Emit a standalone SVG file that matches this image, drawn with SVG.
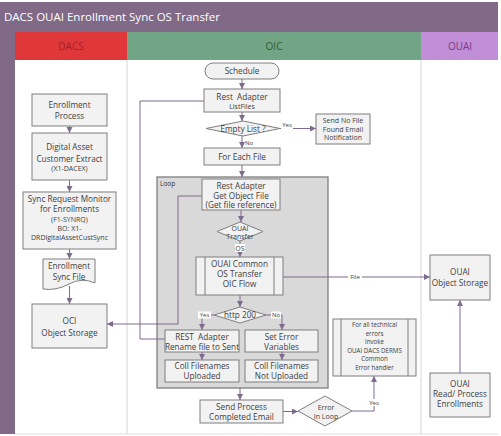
<svg xmlns="http://www.w3.org/2000/svg" width="501" height="436" viewBox="0 0 501 436">
<defs>
<marker id="arr" markerUnits="userSpaceOnUse" markerWidth="7" markerHeight="7" refX="6" refY="3" orient="auto">
<path d="M0,0 L6,3 L0,6 z" fill="#7E6A8E"/>
</marker>
<style>
.box{fill:#F2F2F2;stroke:#7F7F7F;stroke-width:1}
.t{font-family:"Open Sans","DejaVu Sans",sans-serif;fill:#404040;text-anchor:middle;font-size:8.2px}
.s7{font-size:7px}
.s6{font-size:6px}
.eh{font-size:6.2px}
.c{fill:none;stroke:#7E6A8E;stroke-width:1}
.ca{fill:none;stroke:#7E6A8E;stroke-width:1;marker-end:url(#arr)}
.lane{stroke:#DEDEDE;stroke-width:1.2;fill:none}
.lb{fill:#FFFFFF}
.bar{fill:none;stroke:#7F7F7F;stroke-width:1}
</style>
</defs>
<rect x="0" y="0" width="501" height="436" fill="#FFFFFF"/>
<g id="frame">
<rect x="0" y="2" width="498" height="30" fill="#806A88"/>
<text x="4" y="21" font-family="Open Sans, sans-serif" font-size="11.5" fill="#FFFFFF">DACS OUAI Enrollment Sync OS Transfer</text>
<rect x="0" y="32" width="15" height="402" fill="#806A88"/>
<rect x="15" y="32" width="112" height="28" fill="#E0383A"/>
<rect x="127" y="32" width="294" height="28" fill="#72A585"/>
<rect x="421" y="32" width="77" height="28" fill="#C08FD8"/>
<text x="71" y="49.5" font-family="Open Sans, sans-serif" font-size="10" fill="#A3202A" text-anchor="middle">DACS</text>
<text x="274" y="49.5" font-family="Open Sans, sans-serif" font-size="10" fill="#2D5E3A" text-anchor="middle">OIC</text>
<text x="460" y="49.5" font-family="Open Sans, sans-serif" font-size="10" fill="#7C3A86" text-anchor="middle">OUAI</text>
<path class="lane" d="M127,60 V434 M421,60 V434 M15,434 H498"/>
</g>
<g id="loop">
<rect x="157" y="177" width="171" height="211" fill="#D9D9D9" stroke="#7F7F7F" stroke-width="1.3"/>
<text x="160" y="186" font-family="Open Sans, sans-serif" font-size="6.5" fill="#333333">Loop</text>
</g>
<g id="connectors">
<path class="ca" d="M69.5,126 V133"/>
<path class="ca" d="M69.5,180 V192"/>
<path class="ca" d="M69.5,249 V259"/>
<path class="ca" d="M69.5,286 V304"/>
<path class="ca" d="M242,79 V89"/>
<path class="ca" d="M242,112 V121"/>
<path class="ca" d="M280,128.5 H316"/>
<path class="ca" d="M242,136 V148"/>
<path class="ca" d="M242,165 V177"/>
<path class="c" d="M204,101 H140 V339 H165"/>
<path class="ca" d="M202,196 H178 V324 H107"/>
<path class="ca" d="M241,210 V222"/>
<path class="ca" d="M240,241 V257"/>
<path class="ca" d="M283,277 H430"/>
<path class="ca" d="M240,295 V307"/>
<path class="ca" d="M214,315 H202 V330"/>
<path class="ca" d="M266,315 H282 V330"/>
<path class="ca" d="M202,352 V360"/>
<path class="ca" d="M282,352 V360"/>
<path class="ca" d="M240,388 V400"/>
<path class="ca" d="M283,411.5 H298"/>
<path class="ca" d="M352,411 H374 V376"/>
<path class="ca" d="M460,373 V300"/>
<rect class="lb" x="281" y="122" width="12" height="7"/>
<text class="t s6" x="287" y="127">Yes</text>
<text class="t s6" x="249" y="145">No</text>
<rect class="lb" x="235" y="244" width="10" height="8"/>
<text class="t s7" x="240" y="250.5">OS</text>
<rect class="lb" x="348" y="273.5" width="14" height="7"/>
<text class="t s6" x="355" y="279">File</text>
<rect class="lb" x="198" y="311.5" width="13" height="7"/>
<text class="t s6" x="204.5" y="317">Yes</text>
<rect class="lb" x="271" y="311.5" width="10" height="7"/>
<text class="t s6" x="276" y="317">No</text>
<rect class="lb" x="368" y="399" width="12" height="7"/>
<text class="t s6" x="374" y="404.5">Yes</text>
</g>
<g id="enrollment-process">
<rect class="box" x="32" y="94" width="75" height="32"/>
<text class="t" x="69.5" y="108">Enrollment</text>
<text class="t" x="69.5" y="118.5">Process</text>
</g>
<g id="digital-asset-extract">
<rect class="box" x="32" y="133" width="75" height="47"/>
<text class="t" x="69.5" y="150">Digital Asset</text>
<text class="t" x="69.5" y="161.5">Customer Extract</text>
<text class="t s7" x="69.5" y="171">(X1-DACEX)</text>
</g>
<g id="sync-request-monitor">
<rect class="box" x="23" y="192" width="93" height="57"/>
<text class="t" x="69.5" y="202">Sync Request Monitor</text>
<text class="t" x="69.5" y="212">for Enrollments</text>
<text class="t s7" x="69.5" y="221.5">(F1-SYNRQ)</text>
<text class="t s7" x="69.5" y="231">BO: X1-</text>
<text class="t s7" x="69.5" y="240">DRDigitalAssetCustSync</text>
</g>
<g id="enrollment-sync-file">
<path class="box" d="M43,259 H95 V283 Q82,277 69,284 T43,289 Z"/>
<text class="t" x="69" y="269">Enrollment</text>
<text class="t" x="69" y="280">Sync File</text>
</g>
<g id="oci-object-storage">
<rect class="box" x="32" y="304" width="75" height="44"/>
<text class="t" x="69.5" y="324">OCI</text>
<text class="t" x="69.5" y="336">Object Storage</text>
</g>
<g id="schedule">
<rect class="box" x="205" y="63" width="74" height="16" rx="8"/>
<text class="t" x="242" y="74">Schedule</text>
</g>
<g id="list-files">
<rect class="box" x="204" y="89" width="76" height="23"/>
<text class="t" x="242" y="99.5" xml:space="preserve">Rest  Adapter</text>
<text class="t s7" x="242" y="108.5">ListFiles</text>
</g>
<g id="empty-list">
<path class="box" d="M206,128.5 L243,121 L280,128.5 L243,136 Z"/>
<text class="t" x="243" y="131.5">Empty List ?</text>
</g>
<g id="send-no-file">
<rect class="box" x="316" y="114" width="54" height="30"/>
<text class="t s7" x="343" y="123">Send No File</text>
<text class="t s7" x="343" y="131.7">Found Email</text>
<text class="t s7" x="343" y="140.2">Notification</text>
</g>
<g id="for-each-file">
<rect class="box" x="204" y="148" width="76" height="17"/>
<text class="t" x="242" y="159.5">For Each File</text>
</g>
<g id="get-object-file">
<rect class="box" x="202" y="179" width="78" height="31"/>
<text class="t" x="241" y="189">Rest Adapter</text>
<text class="t" x="241" y="198.5">Get Object File</text>
<text class="t" x="241" y="208">(Get file reference)</text>
</g>
<g id="ouai-transfer">
<path class="box" d="M217,231.5 L240,222 L263,231.5 L240,241 Z"/>
<text class="t s7" x="240" y="230.5">OUAI</text>
<text class="t s7" x="240" y="238.5">Transfer</text>
</g>
<g id="ouai-common-os-transfer">
<rect class="box" x="196" y="257" width="87" height="38"/>
<path class="bar" d="M205,257 V295 M274,257 V295"/>
<text class="t" x="239.5" y="267" font-size="8.6">OUAI Common</text>
<text class="t" x="239.5" y="277" font-size="8.6">OS Transfer</text>
<text class="t" x="239.5" y="287" font-size="8.6">OIC Flow</text>
</g>
<g id="http-200">
<path class="box" d="M214,315 L240,307 L266,315 L240,323 Z"/>
<text class="t" x="240" y="318" font-size="7.5">http 200</text>
</g>
<g id="rest-rename">
<rect class="box" x="165" y="330" width="74" height="22"/>
<text class="t" x="202" y="339.5" xml:space="preserve">REST  Adapter</text>
<text class="t" x="202" y="349.5" font-size="7.6">Rename file to Sent</text>
</g>
<g id="set-error-variables">
<rect class="box" x="245" y="330" width="73" height="22"/>
<text class="t" x="281.5" y="339.5">Set Error</text>
<text class="t" x="281.5" y="349.5">Variables</text>
</g>
<g id="coll-uploaded">
<rect class="box" x="165" y="360" width="74" height="22"/>
<text class="t" x="202" y="369">Coll Filenames</text>
<text class="t" x="202" y="379">Uploaded</text>
</g>
<g id="coll-not-uploaded">
<rect class="box" x="245" y="360" width="73" height="22"/>
<text class="t" x="281.5" y="369">Coll Filenames</text>
<text class="t" x="281.5" y="379">Not Uploaded</text>
</g>
<g id="send-process-completed">
<rect class="box" x="200" y="400" width="83" height="23"/>
<text class="t" x="241.5" y="409.7">Send Process</text>
<text class="t" x="241.5" y="419.7">Completed Email</text>
</g>
<g id="error-in-loop">
<path class="box" d="M298,411 L325,396 L352,411 L325,426 Z"/>
<text class="t s7" x="326" y="409.5">Error</text>
<text class="t s7" x="326" y="418.5">In Loop</text>
</g>
<g id="error-handler">
<rect class="box" x="333" y="319" width="83" height="57"/>
<path class="bar" d="M341,319 V376 M408,319 V376"/>
<text class="t eh" x="374.5" y="327" fill="#222222">For all technical</text>
<text class="t eh" x="374.5" y="335.5" fill="#222222">errors</text>
<text class="t eh" x="374.5" y="344" fill="#5A5A5A">Invoke</text>
<text class="t eh" x="374.5" y="352.5" fill="#5A5A5A">OUAI DACS DERMS</text>
<text class="t eh" x="374.5" y="361" fill="#5A5A5A">Common</text>
<text class="t eh" x="374.5" y="369.5" fill="#5A5A5A">Error handler</text>
</g>
<g id="ouai-object-storage">
<rect class="box" x="430" y="255" width="60" height="45"/>
<text class="t" x="460" y="275">OUAI</text>
<text class="t" x="460" y="286">Object Storage</text>
</g>
<g id="ouai-read-process">
<rect class="box" x="430" y="373" width="60" height="44"/>
<text class="t" x="460" y="387.3">OUAI</text>
<text class="t" x="460" y="397.3">Read/ Process</text>
<text class="t" x="460" y="407.3">Enrollments</text>
</g>
</svg>
